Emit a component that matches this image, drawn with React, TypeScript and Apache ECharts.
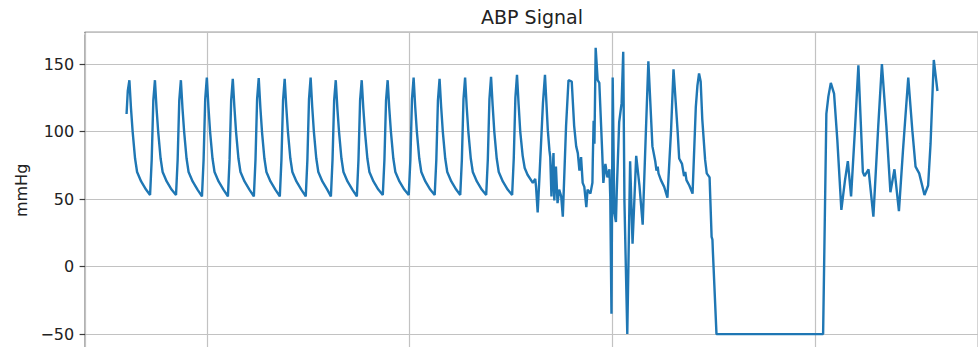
import React, { useEffect, useRef } from "react";
import * as echarts from "echarts";

const chartTitle = "ABP Signal";
const yAxisName = "mmHg";
const xRange: [number, number] = [2, 24.03];
const yRange: [number, number] = [-60.6, 173.4];
const yTickStep = 50;

// time (s), pressure (mmHg)
const segLead: [number, number][] = [
  [3.02, 113], [3.05, 130], [3.09, 138], [3.13, 117], [3.17, 100], [3.23, 80], [3.28, 70], [3.38, 63], [3.5, 57],
];

const segRegular: [number, number][] = [
  [3.6, 53], [3.64, 79], [3.68, 123], [3.72, 138], [3.76, 117], [3.8, 100], [3.86, 80], [3.91, 70], [4.01, 63], [4.13, 57],
  [4.24, 53], [4.28, 79], [4.32, 123], [4.36, 138], [4.4, 117], [4.44, 100], [4.5, 80], [4.55, 70], [4.65, 63], [4.77, 57],
  [4.88, 52], [4.92, 79], [4.96, 124], [5.0, 140], [5.04, 118], [5.08, 100], [5.14, 80], [5.19, 70], [5.29, 63], [5.41, 57],
  [5.52, 52], [5.56, 79], [5.6, 123], [5.64, 139], [5.68, 118], [5.72, 100], [5.78, 80], [5.83, 70], [5.93, 63], [6.05, 57],
  [6.16, 52], [6.2, 79], [6.24, 124], [6.28, 139.5], [6.32, 118], [6.36, 100], [6.42, 80], [6.47, 70], [6.57, 63], [6.69, 57],
  [6.8, 52], [6.84, 79], [6.88, 123], [6.92, 139], [6.96, 118], [7.0, 100], [7.06, 80], [7.11, 70], [7.21, 63], [7.33, 57],
  [7.44, 52], [7.48, 79], [7.52, 124], [7.56, 140], [7.6, 118], [7.64, 100], [7.7, 80], [7.75, 70], [7.85, 63], [7.97, 57],
  [8.06, 52], [8.1, 79], [8.14, 123], [8.18, 138], [8.22, 117], [8.26, 100], [8.32, 80], [8.37, 70], [8.47, 63], [8.59, 57],
  [8.7, 52], [8.74, 79], [8.78, 123], [8.82, 138], [8.86, 117], [8.9, 100], [8.96, 80], [9.01, 70], [9.11, 63], [9.23, 57],
  [9.34, 53], [9.38, 79], [9.42, 123], [9.46, 138], [9.5, 117], [9.54, 100], [9.6, 80], [9.65, 70], [9.75, 63], [9.87, 57],
  [9.98, 53], [10.02, 79], [10.06, 124], [10.1, 140], [10.14, 118], [10.18, 100], [10.24, 80], [10.29, 70], [10.39, 63], [10.51, 57],
  [10.62, 53], [10.66, 79], [10.7, 123], [10.74, 139], [10.78, 118], [10.82, 100], [10.88, 80], [10.93, 70], [11.03, 63], [11.15, 57],
  [11.25, 53], [11.29, 79], [11.33, 124], [11.37, 140], [11.41, 118], [11.45, 100], [11.51, 80], [11.56, 70], [11.66, 63], [11.78, 57],
  [11.89, 53], [11.93, 79], [11.97, 124], [12.01, 140.5], [12.05, 119], [12.09, 100], [12.15, 80], [12.2, 70], [12.3, 63], [12.42, 57],
  [12.53, 53], [12.57, 80], [12.61, 125], [12.65, 142], [12.69, 120], [12.73, 100], [12.79, 82], [12.84, 73], [12.91, 68],
  [13.04, 62], [13.1, 65], [13.12, 59], [13.16, 40], [13.2, 64], [13.29, 121], [13.34, 142],
];

const segArrhythmia: [number, number][] = [
  [13.41, 101], [13.45, 86], [13.47, 81], [13.5, 52], [13.55, 84], [13.57, 49], [13.61, 74], [13.65, 47], [13.69, 57],
  [13.74, 52], [13.78, 37], [13.86, 104], [13.92, 138], [14.0, 137], [14.06, 104], [14.11, 89], [14.15, 84], [14.19, 71],
  [14.23, 81], [14.27, 62], [14.31, 59], [14.36, 44], [14.39, 57], [14.46, 54], [14.51, 62], [14.52, 80], [14.54, 108],
  [14.56, 91], [14.59, 162], [14.64, 138], [14.68, 136], [14.75, 86], [14.78, 62], [14.83, 76], [14.88, 66], [14.93, 72],
  [14.95, 52], [14.98, -35], [15.01, 140], [15.05, 40], [15.09, 33], [15.11, 55], [15.17, 107], [15.23, 121], [15.27, 159],
  [15.3, 48], [15.37, -50], [15.44, 78], [15.5, 17], [15.59, 82], [15.67, 60], [15.75, 31], [15.83, 101], [15.89, 152],
  [15.99, 89], [16.06, 78], [16.09, 71], [16.12, 74], [16.14, 69], [16.2, 64], [16.28, 59], [16.36, 51], [16.45, 101],
  [16.51, 146], [16.61, 101], [16.65, 80], [16.72, 76], [16.77, 67], [16.8, 70], [16.83, 64], [16.9, 60], [16.98, 54],
  [17.06, 118], [17.1, 134], [17.14, 143], [17.18, 137], [17.22, 109], [17.29, 79], [17.33, 69], [17.4, 66], [17.45, 22],
  [17.47, 20], [17.48, 12],
];

const segDropout: [number, number][] = [
  [17.57, -50], [20.2, -50],
];

const segRecovery: [number, number][] = [
  [20.28, 113], [20.33, 126], [20.39, 136], [20.47, 128], [20.55, 94], [20.65, 42], [20.74, 64], [20.81, 78], [20.89, 52],
  [20.99, 104], [21.07, 149], [21.18, 70], [21.22, 67], [21.32, 72], [21.44, 37], [21.56, 104], [21.65, 150], [21.76, 104],
  [21.86, 55], [21.96, 72], [22.07, 41], [22.17, 86], [22.3, 140], [22.4, 101], [22.48, 74], [22.57, 69], [22.7, 53],
  [22.79, 60], [22.85, 91], [22.93, 153], [23.02, 130],
];

const signal = [...segLead, ...segRegular, ...segArrhythmia, ...segDropout, ...segRecovery];

const FONT = "DejaVu Sans";

export default function App() {
  const ref = useRef<HTMLDivElement>(null);

  useEffect(() => {
    document.body.style.margin = "0";
    const chart = echarts.init(ref.current as HTMLDivElement, null, { renderer: "svg" });
    const gridLine = { show: true, lineStyle: { color: "#c2c2c2", width: 1.2 } };
    const isStep = (v: number) => Math.abs(v / yTickStep - Math.round(v / yTickStep)) < 1e-6;
    chart.setOption({
      animation: false,
      backgroundColor: "#ffffff",
      textStyle: { fontFamily: FONT },
      graphic: [
        {
          type: "text",
          x: 532,
          y: 17,
          style: {
            text: chartTitle,
            fontSize: 19,
            fontFamily: FONT,
            fill: "#222222",
            align: "center",
            verticalAlign: "middle",
          },
        },
        {
          // hides the boundary tick ECharts adds at the axis maximum (not a real tick)
          type: "rect",
          shape: { x: 77, y: 30.5, width: 7.5, height: 4 },
          style: { fill: "#ffffff" },
          z: 100,
          silent: true,
        },
      ],
      grid: {
        left: 85.2,
        right: 1.6,
        top: 32.4,
        bottom: 1.6,
        show: true,
        borderColor: "#3c3c3c",
        borderWidth: 1.2,
        backgroundColor: "transparent",
      },
      xAxis: {
        type: "value",
        min: xRange[0],
        max: xRange[1],
        splitNumber: 5,
        axisLine: { show: false },
        axisTick: { show: false },
        axisLabel: { show: false },
        splitLine: gridLine,
      },
      yAxis: {
        type: "value",
        min: yRange[0],
        max: yRange[1],
        splitNumber: 5,
        name: yAxisName,
        nameLocation: "middle",
        nameGap: 53,
        nameTextStyle: { fontSize: 16, color: "#222222", fontFamily: FONT },
        axisLine: { show: false },
        axisTick: {
          show: true,
          length: 5.6,
          lineStyle: { color: "#3c3c3c", width: 1.2 },
        },
        axisLabel: {
          fontSize: 16,
          color: "#222222",
          fontFamily: FONT,
          margin: 11,
          formatter: (v: number) =>
            isStep(v) ? (v < 0 ? "\u2212" + Math.abs(Math.round(v)) : String(Math.round(v))) : "",
        },
        splitLine: gridLine,
      },
      series: [
        {
          type: "line",
          data: signal,
          showSymbol: false,
          symbol: "none",
          lineStyle: { color: "#1f77b4", width: 2.4 },
          itemStyle: { color: "#1f77b4" },
          emphasis: { disabled: true },
        },
      ],
    });
    return () => chart.dispose();
  }, []);

  return (
    <div style={{ width: 978, height: 347, overflow: "hidden", position: "relative" }}>
      <div ref={ref} style={{ width: 980, height: 350 }} />
    </div>
  );
}
